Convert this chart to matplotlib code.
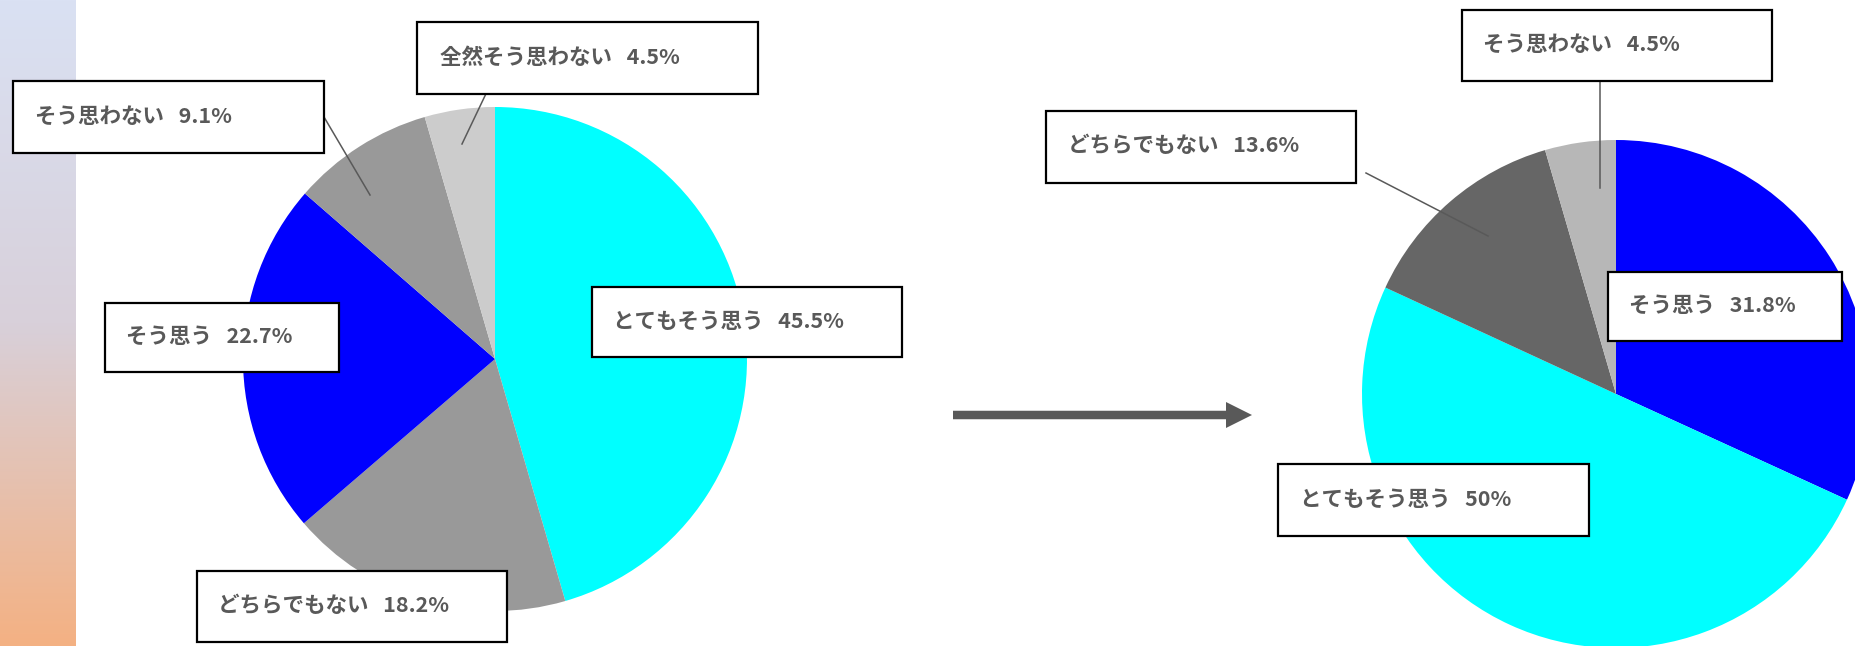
import numpy as np
import matplotlib.pyplot as plt
from matplotlib.colors import LinearSegmentedColormap
from matplotlib.patches import Rectangle, FancyArrow

plt.rcParams['font.family'] = ['Noto Sans CJK JP', 'DejaVu Sans']

# Data - before (left) and after (right), clockwise from 12 o'clock
before_labels = ['とてもそう思う', 'どちらでもない', 'そう思う', 'そう思わない', '全然そう思わない']
before_values = [45.5, 18.2, 22.7, 9.1, 4.5]
before_colors = ['#00ffff', '#999999', '#0000ff', '#999999', '#cccccc']

after_labels = ['そう思う', 'とてもそう思う', 'どちらでもない', 'そう思わない']
after_values = [31.8, 50, 13.6, 4.5]
after_colors = ['#0000ff', '#00ffff', '#666666', '#b7b7b7']

W, H = 1856, 646
TXT = '#595959'

# label boxes in image pixels: (x0, y0_top, x1, y1_bottom), text x, leader line or None
before_boxes = [
    ((592, 287, 902, 357), 613, None),
    ((197, 571, 507, 642), 218, None),
    ((105, 303, 339, 372), 126, None),
    ((13, 81, 324, 153), 35, ((324, 117), (370, 195))),
    ((417, 22, 758, 94), 440, ((493, 79), (462, 144))),
]
after_boxes = [
    ((1608, 272, 1842, 341), 1629, None),
    ((1278, 464, 1589, 536), 1300, None),
    ((1046, 111, 1356, 183), 1068, ((1366, 173), (1488, 236))),
    ((1462, 10, 1772, 81), 1483, ((1600, 73), (1600, 188))),
]

fig = plt.figure(figsize=(W / 100, H / 100), dpi=100)
ax = fig.add_axes([0, 0, 1, 1])

# gradient strip on the left (lavender at top, orange at bottom)
cmap = LinearSegmentedColormap.from_list('strip', ['#dae1f3', '#d8d0da', '#f4b183'])
ax.imshow(np.linspace(0, 1, 256).reshape(-1, 1), cmap=cmap, aspect='auto',
          extent=[0, 76, 0, H], zorder=0)


def draw_pie(values, colors, center, radius):
    ax.pie(values, colors=colors, startangle=90, counterclock=False,
           center=(center[0], H - center[1]), radius=radius,
           wedgeprops=dict(linewidth=0, zorder=1))


def draw_labels(labels, values, boxes):
    for lab, v, (box, tx, leader) in zip(labels, values, boxes):
        x0, y0, x1, y1 = box
        if leader is not None:
            (lx0, ly0), (lx1, ly1) = leader
            ax.plot([lx0, lx1], [H - ly0, H - ly1], color=TXT, lw=1.1, zorder=3)
        ax.add_patch(Rectangle((x0, H - y1), x1 - x0, y1 - y0, facecolor='white',
                               edgecolor='black', lw=1.6, zorder=4))
        ax.text(tx, H - (y0 + y1) / 2 + 1, f'{lab}   {v:g}%', ha='left', va='center',
                fontsize=15.5, fontweight='bold', color=TXT, zorder=5)


draw_pie(before_values, before_colors, (495, 359), 252)
draw_pie(after_values, after_colors, (1616, 394), 254)
draw_labels(before_labels, before_values, before_boxes)
draw_labels(after_labels, after_values, after_boxes)

# arrow between the two pies
ax.add_patch(FancyArrow(953, H - 415, 299, 0, width=8.5, head_width=26, head_length=26,
                        length_includes_head=True, color=TXT, lw=0, zorder=2))

ax.set_xlim(0, W)
ax.set_ylim(0, H)
ax.set_aspect('equal')
ax.set_axis_off()

fig.savefig('out.png', dpi=100)
